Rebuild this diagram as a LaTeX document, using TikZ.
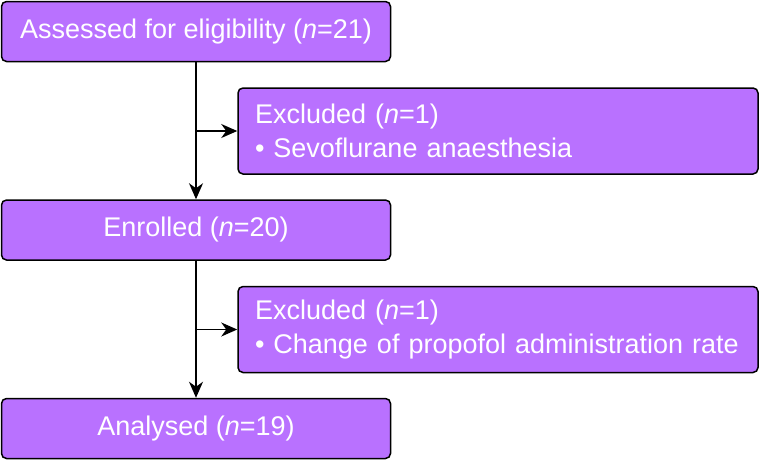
\documentclass[tikz,border=0pt]{standalone}
\usepackage{fontspec}
\setmainfont{Liberation Sans}
\usetikzlibrary{arrows.meta, positioning}
\definecolor{boxviolet}{RGB}{185,113,255}

\begin{document}
\begin{tikzpicture}[
    x=1pt, y=-1pt, % one unit per pixel, y down
    box/.style={draw=black, line width=1.5pt, fill=boxviolet, rounded corners=5pt,
        text=white, font=\fontsize{27}{34}\selectfont},
    main_box/.style={box, minimum width=389pt, minimum height=60pt, inner sep=0pt},
    excl_box/.style={box, minimum width=520pt, minimum height=86pt,
        text width=486pt, inner xsep=17pt, align=left},
    flow_arrow/.style={-{Stealth[length=16pt, width=14pt, inset=5pt]}, line width=1.5pt}
]

% Define step between rows
\def\dy{198.5}

\useasboundingbox (0,0) rectangle (759,461);

% Main column
\node[main_box] (assessed) at (196,31.5) {Assessed for eligibility (\textit{n}=21)};
\node[main_box] (enrolled) at (196,31.5+\dy) {Enrolled (\textit{n}=20)};
\node[main_box] (analysed) at (196,31.5+2*\dy) {Analysed (\textit{n}=19)};

% Exclusion boxes
\node[excl_box] (excluded1) at (498,131) {Excluded (\textit{n}=1)\\ \textbullet\ Sevoflurane anaesthesia};
\node[excl_box] (excluded2) at (498,131+\dy) {Excluded (\textit{n}=1)\\ \textbullet\ Change of propofol administration rate};

% Arrows
\draw[flow_arrow] (assessed) -- (enrolled);
\draw[flow_arrow] (enrolled) -- (analysed);
\draw[flow_arrow] (assessed.south |- excluded1.west) -- (excluded1.west);
\draw[flow_arrow] (enrolled.south |- excluded2.west) -- (excluded2.west);

\end{tikzpicture}
\end{document}
